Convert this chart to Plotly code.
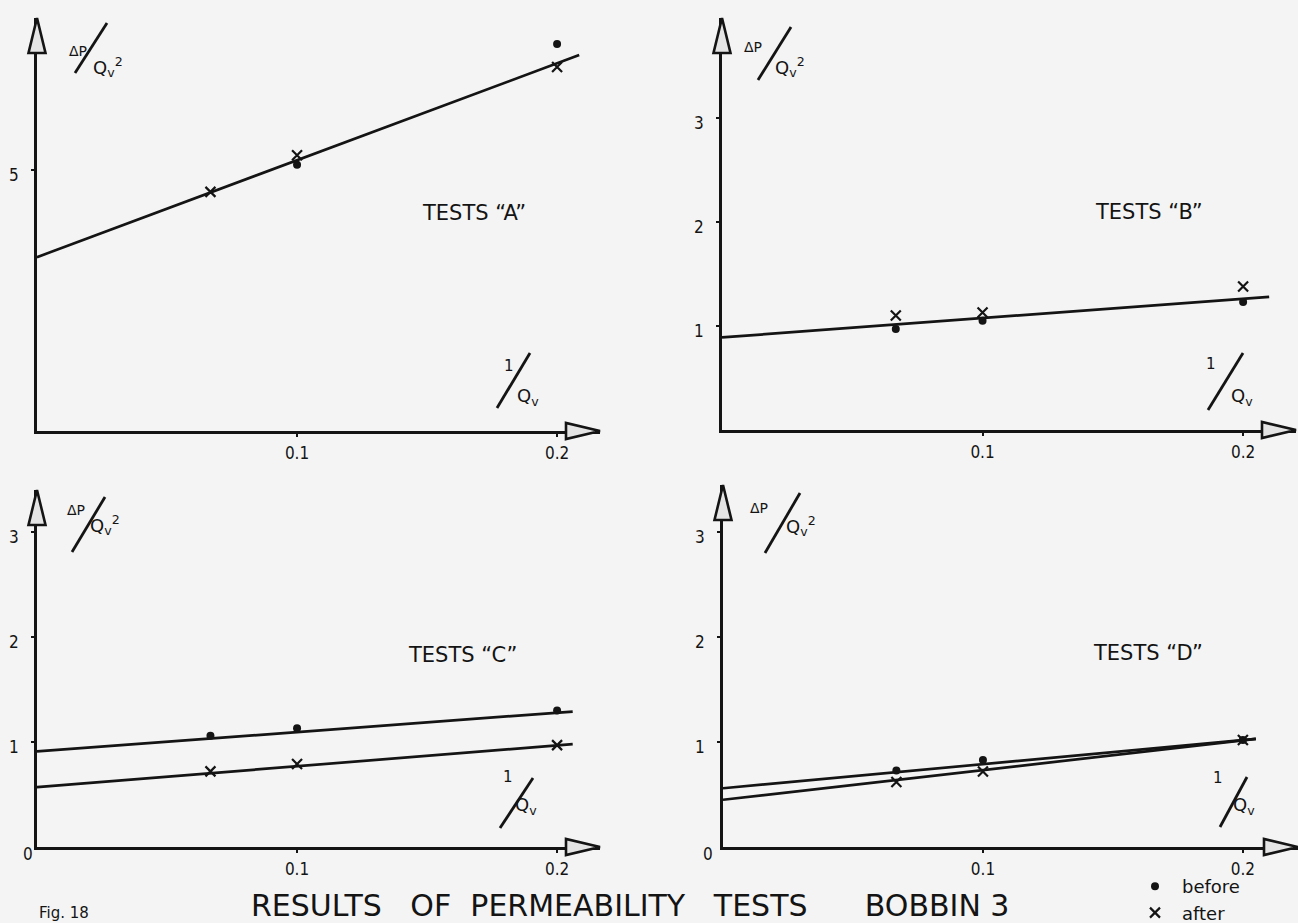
import plotly.graph_objects as go

# ---------------- data ----------------
X_POINTS = [0.0667, 0.1, 0.2]          # 1/Qv of the three test runs

A_BEFORE = [None, 5.10, 7.41]
A_AFTER = [4.58, 5.28, 6.97]
A_LINE_X = [0.0, 0.2085]
A_LINE_Y = [3.33, 7.20]

B_BEFORE = [0.97, 1.05, 1.23]
B_AFTER = [1.10, 1.13, 1.38]
B_LINE_X = [0.0, 0.21]
B_LINE_Y = [0.89, 1.28]

C_BEFORE = [1.06, 1.13, 1.30]
C_AFTER = [0.72, 0.79, 0.97]
C_LINE_X = [0.0, 0.206]
C_BEFORE_LINE_Y = [0.91, 1.29]
C_AFTER_LINE_Y = [0.57, 0.98]

D_BEFORE = [0.73, 0.83, 1.02]
D_AFTER = [0.62, 0.72, 1.02]
D_LINE_X = [0.0, 0.205]
D_BEFORE_LINE_Y = [0.56, 1.03]
D_AFTER_LINE_Y = [0.45, 1.03]

X_TICKS = [0.1, 0.2]
X_TICK_TEXT = ["0.1", "0.2"]
A_Y_TICKS = [5]
BCD_Y_TICKS = [1, 2, 3]
PANEL_TITLES = ["TESTS \u201cA\u201d", "TESTS \u201cB\u201d", "TESTS \u201cC\u201d", "TESTS \u201cD\u201d"]
SERIES_NAMES = ["before", "after"]

# ---------------- styling / layout ----------------
W, H = 1298, 923
INK = "#141414"
PAPER = "#f4f4f4"
FONT = "DejaVu Sans"
CFONT = "DejaVu Sans Condensed, DejaVu Sans"


def px(x):
    return x / W


def py(y):
    return 1 - y / H


panels = [
    dict(xd=(37, 600), yd=(18, 431), xr=[0, 0.2165], yr=[0, 7.91], yt=A_Y_TICKS,
         lines=[(A_LINE_X, A_LINE_Y)], before=A_BEFORE, after=A_AFTER),
    dict(xd=(722, 1296), yd=(18, 430), xr=[0, 0.2203], yr=[0, 3.96], yt=BCD_Y_TICKS,
         lines=[(B_LINE_X, B_LINE_Y)], before=B_BEFORE, after=B_AFTER),
    dict(xd=(37, 600), yd=(490, 847), xr=[0, 0.2165], yr=[0, 3.40], yt=BCD_Y_TICKS,
         lines=[(C_LINE_X, C_BEFORE_LINE_Y), (C_LINE_X, C_AFTER_LINE_Y)], before=C_BEFORE, after=C_AFTER),
    dict(xd=(723, 1298), yd=(485, 847), xr=[0, 0.2212], yr=[0, 3.45], yt=BCD_Y_TICKS,
         lines=[(D_LINE_X, D_BEFORE_LINE_Y), (D_LINE_X, D_AFTER_LINE_Y)], before=D_BEFORE, after=D_AFTER),
]

fig = go.Figure()
shapes = []
annotations = []

for i, p in enumerate(panels):
    n = "" if i == 0 else str(i + 1)
    xref, yref = "x" + n, "y" + n
    for lx, ly in p["lines"]:
        fig.add_trace(go.Scatter(x=lx, y=ly, mode="lines", xaxis=xref, yaxis=yref,
                                 line=dict(color=INK, width=2.7), showlegend=False,
                                 hoverinfo="skip"))
    fig.add_trace(go.Scatter(x=X_POINTS, y=p["before"], mode="markers", xaxis=xref, yaxis=yref,
                             name=SERIES_NAMES[0], legendgroup="b", showlegend=(i == 0),
                             marker=dict(symbol="circle", size=8, color=INK)))
    fig.add_trace(go.Scatter(x=X_POINTS, y=p["after"], mode="markers", xaxis=xref, yaxis=yref,
                             name=SERIES_NAMES[1], legendgroup="a", showlegend=(i == 0),
                             marker=dict(symbol="x-thin", size=10, color=INK,
                                         line=dict(color=INK, width=2.2))))

    common = dict(showline=True, linecolor=INK, linewidth=2.6, showgrid=False, zeroline=False,
                  ticks="outside", ticklen=3, tickwidth=2, tickcolor=INK, fixedrange=True,
                  tickfont=dict(family=CFONT, size=17, color=INK))
    fig.layout["xaxis" + n] = dict(domain=[px(p["xd"][0]), px(p["xd"][1])], range=p["xr"],
                                   anchor=yref, tickvals=X_TICKS, ticktext=X_TICK_TEXT,
                                   ticklabelstandoff=2, **common)
    fig.layout["yaxis" + n] = dict(domain=[py(p["yd"][1]), py(p["yd"][0])], range=p["yr"],
                                   anchor=xref, tickvals=p["yt"], ticklabelstandoff=9,
                                   ticklabelshift=5, **common)

    # open arrowheads at the axis ends (paper-referenced so they are not clipped)
    x0p, x1p = p["xd"]
    y0p, y1p = p["yd"]
    shapes.append(dict(type="path", xref="paper", yref="paper", xsizemode="pixel", ysizemode="pixel",
                       xanchor=px(x1p), yanchor=py(y1p), path="M 0 0 L -34 8 L -34 -8 Z",
                       line=dict(color=INK, width=2.6), fillcolor="#e4e4e4", layer="above"))
    shapes.append(dict(type="path", xref="paper", yref="paper", xsizemode="pixel", ysizemode="pixel",
                       xanchor=px(x0p), yanchor=py(y0p), path="M 0 0 L -8.5 -35 L 8.5 -35 Z",
                       line=dict(color=INK, width=2.6), fillcolor="#e4e4e4", layer="above"))

# panel captions
title_pos = [(474, 213), (1149, 212), (462, 655), (1148, 653)]
for t, (x, y) in zip(PANEL_TITLES, title_pos):
    annotations.append(dict(text=t, x=px(x), y=py(y), xref="paper", yref="paper",
                            showarrow=False, font=dict(family=FONT, size=21, color=INK),
                            xanchor="center", yanchor="middle"))


def frac_bar(x0, y0, x1, y1):
    shapes.append(dict(type="line", xref="paper", yref="paper", x0=px(x0), y0=py(y0),
                       x1=px(x1), y1=py(y1), line=dict(color=INK, width=2.8)))


# y-axis labels  ΔP / Qv²   : (ΔP centre), (fraction bar), (Q centre)
ylab = [((72, 48), (75, 73, 107, 23), (98, 67)),
        ((758, 44), (758, 80, 791, 27), (780, 67)),
        ((70, 517), (72, 552, 105, 497), (95, 540)),
        ((764, 515), (765, 553, 800, 493), (791, 541))]
for (dp, bar, q) in ylab:
    annotations.append(dict(text="\u0394P", x=px(dp[0] - 5), y=py(dp[1] - 7), xref="paper",
                            yref="paper", showarrow=False,
                            font=dict(family=FONT, size=14, color=INK)))
    frac_bar(*bar)
    annotations.append(dict(text="Q<sub>v</sub><sup>2</sup>", x=px(q[0] - 7), y=py(q[1] - 15),
                            xref="paper", yref="paper", xanchor="left", showarrow=False,
                            font=dict(family=FONT, size=18, color=INK)))

# x-axis labels  1 / Qv      : ("1" centre), (fraction bar), (Q centre)
xlab = [((509, 366), (497, 408, 530, 353), (522, 397)),
        ((1218, 364), (1208, 410, 1243, 353), (1236, 397)),
        ((508, 788), (500, 828, 533, 778), (520, 820)),
        ((1225, 789), (1220, 827, 1247, 777), (1238, 820))]
for (one, bar, q) in xlab:
    annotations.append(dict(text="1", x=px(one[0]), y=py(one[1]), xref="paper", yref="paper",
                            showarrow=False, font=dict(family=FONT, size=15, color=INK)))
    frac_bar(*bar)
    annotations.append(dict(text="Q<sub>v</sub>", x=px(q[0] - 7), y=py(q[1]),
                            xref="paper", yref="paper", xanchor="left", showarrow=False,
                            font=dict(family=FONT, size=18, color=INK)))

# origin "0" labels (lower panels)
for (x, y) in [(21, 866), (708, 866)]:
    annotations.append(dict(text="0", x=px(x), y=py(y), xref="paper", yref="paper",
                            showarrow=False, font=dict(family=CFONT, size=17, color=INK)))

# figure caption
nb = "\u00a0"
caption = ("RESULTS" + nb * 3 + "OF" + nb * 2 + "PERMEABILITY" + nb * 3 + "TESTS" + nb * 6
           + "BOBBIN" + nb + "3")
annotations.append(dict(text=caption, x=px(249), y=py(905), xref="paper", yref="paper",
                        xanchor="left", yanchor="middle", showarrow=False,
                        font=dict(family=FONT, size=30, color=INK)))
annotations.append(dict(text="Fig. 18", x=px(37), y=py(913), xref="paper", yref="paper",
                        xanchor="left", yanchor="middle", showarrow=False,
                        font=dict(family=FONT, size=15, color=INK)))

fig.update_layout(
    width=W, height=H, margin=dict(l=0, r=0, t=0, b=0, autoexpand=False),
    paper_bgcolor=PAPER, plot_bgcolor="rgba(0,0,0,0)",
    shapes=shapes, annotations=annotations,
    showlegend=True,
    legend=dict(x=px(1128), y=py(868), xanchor="left", yanchor="top",
                font=dict(family=FONT, size=18, color=INK), bgcolor="rgba(0,0,0,0)",
                itemwidth=44, tracegroupgap=0),
    font=dict(family=FONT, color=INK),
)

fig.write_html("out.html")
